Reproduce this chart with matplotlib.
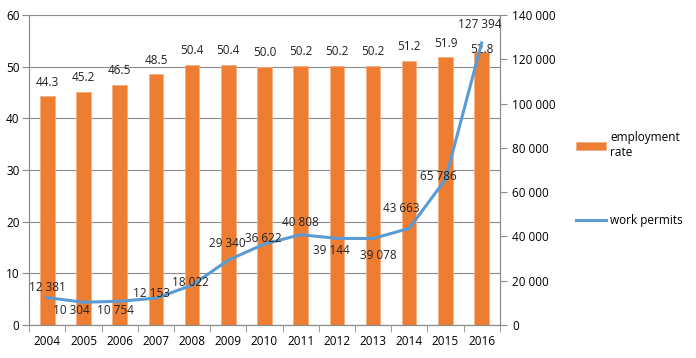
import matplotlib.pyplot as plt
from matplotlib.ticker import FuncFormatter, MultipleLocator
import numpy as np

years = ['2004', '2005', '2006', '2007', '2008', '2009', '2010',
         '2011', '2012', '2013', '2014', '2015', '2016']
employment = [44.3, 45.2, 46.5, 48.5, 50.4, 50.4, 50.0, 50.2, 50.2, 50.2, 51.2, 51.9, 52.8]
permits = [12381, 10304, 10754, 12153, 18022, 29340, 36622, 40808, 39144, 39078, 43663, 65786, 127394]

# label offsets in points (Excel placed these by hand-ish)
permitOffsets = [(0, 7), (-9, -6), (-3, -7), (-3, 3), (-1, 2), (-1, 12), (-1, 4),
                 (0, 9), (-4, -9), (4, -12), (-6, 14), (-5, 2), (-1, 13)]
barOffsets = [10] * 12 + [2]

orange = '#ED7D31'
blue = '#5B9BD5'
gridc = '#8C8C8C'
fs = 8.5

plt.rcParams['font.family'] = ['Open Sans', 'DejaVu Sans']
plt.rcParams['font.size'] = fs

fig = plt.figure(figsize=(6.96, 3.58), dpi=100)
ax = fig.add_axes([0.042, 0.092, 0.676, 0.866])
ax2 = ax.twinx()

x = np.arange(len(years))
ax.bar(x, employment, width=0.4, color=orange, edgecolor='#F4B183', linewidth=0.6,
       label='employment rate', zorder=2)
for xi, v, off in zip(x, employment, barOffsets):
    ax.annotate(f'{v:.1f}', (xi, v), xytext=(0, off), textcoords='offset points',
                ha='center', va='center', fontsize=fs, color='#222222', zorder=5)

ax.set_xlim(-0.5, len(years) - 0.5)
ax.set_ylim(0, 60)
ax.yaxis.set_major_locator(MultipleLocator(10))
ax.grid(axis='y', color=gridc, linewidth=0.8, zorder=0)
ax.set_axisbelow(True)
ax.set_xticks(x)
ax.set_xticklabels(years)
ax.set_xticks(np.arange(-0.5, len(years)), minor=True)
ax.tick_params(axis='x', which='major', length=0, pad=7)
ax.tick_params(axis='x', which='minor', length=5, color=gridc)
ax.tick_params(axis='y', length=5, color=gridc, pad=2)

ax2.plot(x, permits, color=blue, linewidth=2.2, label='work permits', zorder=3)
for xi, v, off in zip(x, permits, permitOffsets):
    ax2.annotate(f'{v:,}'.replace(',', ' '), (xi, v), xytext=off, textcoords='offset points',
                 ha='center', va='center', fontsize=fs, color='#222222')
ax2.set_ylim(0, 140000)
ax2.yaxis.set_major_locator(MultipleLocator(20000))
ax2.yaxis.set_major_formatter(FuncFormatter(lambda v, p: f'{int(v):,}'.replace(',', ' ')))
ax2.tick_params(axis='y', length=5, color=gridc, pad=4)

for a in (ax, ax2):
    a.spines['top'].set_visible(False)
    for s in ('left', 'right', 'bottom'):
        a.spines[s].set_color(gridc)

h1, l1 = ax.get_legend_handles_labels()
h2, l2 = ax2.get_legend_handles_labels()
fig.legend(h1 + h2, ['employment\nrate', 'work permits'], loc='center left',
           bbox_to_anchor=(0.812, 0.5), frameon=False, fontsize=fs,
           labelspacing=4.6, handlelength=2.6, handletextpad=0.3)

fig.savefig('out.png', dpi=100)
